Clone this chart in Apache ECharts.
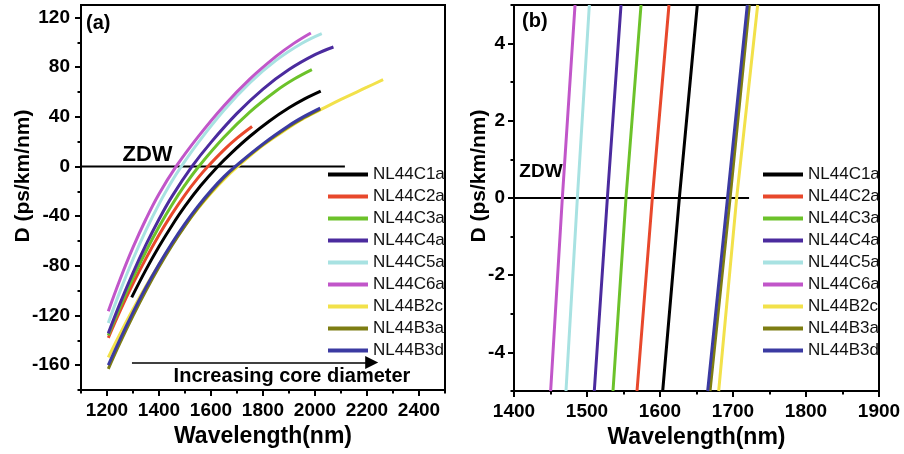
<!DOCTYPE html>
<html>
<head>
<meta charset="utf-8">
<script src="https://cdn.jsdelivr.net/npm/echarts@6/dist/echarts.min.js"></script>
<style>html,body{margin:0;padding:0;background:#fff}#c{width:904px;height:454px}</style>
</head>
<body>
<div id="c"></div>
<script>
// ---------- data ----------
const names = ['NL44C1a','NL44C2a','NL44C3a','NL44C4a','NL44C5a','NL44C6a','NL44B2c','NL44B3a','NL44B3d'];

// Panel (a): wavelength (nm) and dispersion D (ps/km/nm)
const wlC1a = [1295,1350,1400,1450,1500,1560,1626,1680,1750,1825,1900,1960,2022];
const dC1a  = [-105.4,-83.1,-64.5,-47.5,-32.0,-15.6,0,11.2,24.3,36.6,47.2,54.4,60.7];
const wlC2a = [1205,1250,1300,1350,1400,1450,1500,1550,1588,1650,1700,1758];
const dC2a  = [-138,-116.5,-94.4,-74.0,-55.2,-38.2,-22.8,-9.2,0,13.4,22.8,32.2];
const wlC3a = [1205,1250,1300,1350,1400,1450,1500,1553,1650,1750,1850,1920,1988];
const dC3a  = [-136,-113.3,-89.8,-68.3,-48.6,-30.8,-14.9,0,23.5,44.0,60.8,70.4,78.0];
const wlC4a = [1205,1250,1300,1350,1400,1450,1527,1600,1700,1800,1900,2000,2071];
const dC4a  = [-134.4,-110.3,-85.6,-63.0,-42.5,-24.1,0,19.4,42.7,62.3,78.0,90.0,96.2];
const wlC5a = [1205,1250,1300,1350,1400,1450,1486,1550,1650,1750,1850,1950,2026];
const dC5a  = [-126,-100.6,-74.7,-51.3,-30.3,-11.8,0,19.0,45.2,67.4,85.4,99.2,107];
const wlC6a = [1205,1250,1300,1350,1400,1466,1550,1650,1750,1850,1920,1984];
const dC6a  = [-116.6,-91.0,-65.2,-42.3,-22.2,0,23.8,48.9,70.5,88.6,99.3,107.5];
const wlB2c = [1205,1250,1300,1350,1400,1450,1500,1550,1600,1650,1703,1800,1900,1943,2020,2100,2200,2262];
const dB2c  = [-153.7,-134.9,-115.0,-96.3,-78.9,-62.7,-47.7,-34.0,-21.6,-10.4,0,17.0,31.3,37.1,45.5,54.0,63.8,69.9];
const wlB3a = [1205,1250,1300,1350,1400,1450,1500,1550,1600,1650,1696,1800,1900,1960,2020];
const dB3a  = [-163,-142.1,-120.3,-99.9,-81.0,-63.6,-47.8,-33.4,-20.6,-9.1,0,17.6,32.2,39.6,46.2];
const wlB3d = [1205,1250,1300,1350,1400,1450,1500,1550,1600,1650,1693,1800,1900,1960,2020];
const dB3d  = [-160,-139.2,-117.5,-97.3,-78.7,-61.6,-46.0,-31.9,-19.3,-8.2,0,18.2,33.0,40.5,47.0];

// Panel (b): wavelength where D = -5, 0, 5
const dLevelsB = [-5, 0, 5];
const wbC1a = [1603.7,1626.5,1651.1];
const wbC2a = [1568.5,1589.5,1612.3];
const wbC3a = [1535.6,1553.4,1574.0];
const wbC4a = [1510.0,1527.9,1546.6];
const wbC5a = [1471.2,1486.8,1503.2];
const wbC6a = [1450.2,1466.2,1483.6];
const wbB2c = [1680.4,1705.0,1733.8];
const wbB3a = [1668.5,1696.0,1722.4];
const wbB3d = [1665.3,1692.5,1719.6];

// ZDW reference lines and arrow
const zdwA = [[1100,0],[2115,0]];
const zdwB = [[1400,0],[1722,0]];
const arrowA = [[1296,-157.8],[2218,-157.8]];

// tick labels
const xTicksA = [1200,1400,1600,1800,2000,2200,2400];
const xMinorA = [1100,1300,1500,1700,1900,2100,2300,2500];
const yTicksA = [-160,-120,-80,-40,0,40,80,120];
const yMinorA = [-180,-140,-100,-60,-20,20,60,100];
const xTicksB = [1400,1500,1600,1700,1800,1900];
const xMinorB = [1450,1550,1650,1750,1850];
const yTicksB = [-4,-2,0,2,4];
const yMinorB = [-5,-3,-1,1,3,5];

// ---------- chart ----------
const colors = ['#000000','#e8482c','#6cc22a','#4b2b9e','#a8e2e2','#c156c9','#f2e14a','#7d7d12','#3b3aa2'];
const wlA = [wlC1a,wlC2a,wlC3a,wlC4a,wlC5a,wlC6a,wlB2c,wlB3a,wlB3d];
const dA  = [dC1a,dC2a,dC3a,dC4a,dC5a,dC6a,dB2c,dB3a,dB3d];
const wB  = [wbC1a,wbC2a,wbC3a,wbC4a,wbC5a,wbC6a,wbB2c,wbB3a,wbB3d];

const boldTick = {fontFamily:'Liberation Sans, Arial, sans-serif', fontWeight:'bold', fontSize:19, color:'#000',
  formatter:(v)=>String(v)};
const axisLineS = {show:true, onZero:false, lineStyle:{color:'#000', width:2}};

function mainX(grid, min, max, ticks, nameGap){
  return {gridIndex:grid, type:'value', min:min, max:max, position:'bottom',
    axisLine:axisLineS,
    axisTick:{show:true, customValues:ticks, length:6, lineStyle:{color:'#000', width:2}},
    axisLabel:Object.assign({customValues:ticks, margin:11}, boldTick),
    splitLine:{show:false},
    name:'Wavelength(nm)', nameLocation:'middle', nameGap:nameGap,
    nameTextStyle:{fontFamily:'Liberation Sans, Arial, sans-serif', fontWeight:'bold', fontSize:23, color:'#000'}};
}
function minorX(grid, min, max, ticks){
  return {gridIndex:grid, type:'value', min:min, max:max, position:'bottom',
    axisLine:{show:false, onZero:false}, axisLabel:{show:false}, splitLine:{show:false},
    axisTick:{show:true, customValues:ticks, length:3.5, lineStyle:{color:'#000', width:2}}};
}
function mainY(grid, min, max, ticks, margin){
  return {gridIndex:grid, type:'value', min:min, max:max, position:'left',
    axisLine:axisLineS,
    axisTick:{show:true, customValues:ticks, length:6, lineStyle:{color:'#000', width:2}},
    axisLabel:Object.assign({customValues:ticks, margin:margin}, boldTick),
    splitLine:{show:false}};
}
function minorY(grid, min, max, ticks){
  return {gridIndex:grid, type:'value', min:min, max:max, position:'left',
    axisLine:{show:false, onZero:false}, axisLabel:{show:false}, splitLine:{show:false},
    axisTick:{show:true, customValues:ticks, length:3.5, lineStyle:{color:'#000', width:2}}};
}

const series = [];
// ZDW line (a) with arrow
series.push({type:'line', name:'zdwA', xAxisIndex:0, yAxisIndex:0, data:zdwA, showSymbol:false, silent:true,
  lineStyle:{color:'#000', width:2}, z:1,
  markLine:{silent:true, symbol:['none','triangle'], symbolSize:13, label:{show:false},
    lineStyle:{color:'#000', width:1.5, type:'solid'},
    itemStyle:{color:'#000'},
    data:[[{coord:arrowA[0]},{coord:arrowA[1]}]]}});
series.push({type:'line', name:'zdwB', xAxisIndex:2, yAxisIndex:2, data:zdwB, showSymbol:false, silent:true,
  lineStyle:{color:'#000', width:2}, z:1});

names.forEach((n,i)=>{
  series.push({type:'line', name:n, xAxisIndex:0, yAxisIndex:0, smooth:0.4, showSymbol:false,
    color:colors[i], lineStyle:{width:3, color:colors[i]}, z:2,
    data: wlA[i].map((w,j)=>[w, dA[i][j]])});
});
names.forEach((n,i)=>{
  series.push({type:'line', name:n, xAxisIndex:2, yAxisIndex:2, smooth:false, showSymbol:false,
    color:colors[i], lineStyle:{width:3, color:colors[i]}, z:2,
    data: wB[i].map((w,j)=>[w, dLevelsB[j]])});
});

const legendBase = {orient:'vertical', top:161, itemWidth:40, itemHeight:4, itemGap:5, icon:'rect',
  data:names, selectedMode:false,
  textStyle:{fontFamily:'Liberation Sans, Arial, sans-serif', fontSize:17, color:'#111'}};

const boldText = (s)=>'bold '+s+'px "Liberation Sans", Arial, sans-serif';

const option = {
  animation:false,
  backgroundColor:'#fff',
  grid:[
    {left:81, top:5, width:364, height:385, show:true, borderColor:'#000', borderWidth:2},
    {left:514, top:5, width:365, height:386, show:true, borderColor:'#000', borderWidth:2}
  ],
  xAxis:[
    mainX(0,1100,2500,xTicksA,34), minorX(0,1100,2500,xMinorA),
    mainX(1,1400,1900,xTicksB,33), minorX(1,1400,1900,xMinorB)
  ],
  yAxis:[
    mainY(0,-180,130,yTicksA,11), minorY(0,-180,130,yMinorA),
    mainY(1,-5,5,yTicksB,9), minorY(1,-5,5,yMinorB)
  ],
  legend:[
    Object.assign({left:323}, legendBase),
    Object.assign({left:758}, legendBase)
  ],
  series:series,
  graphic:[
    {type:'text', x:86, y:23, style:{text:'(a)', font:boldText(20), fill:'#000', align:'left', verticalAlign:'middle'}},
    {type:'text', x:522, y:21, style:{text:'(b)', font:boldText(20), fill:'#000', align:'left', verticalAlign:'middle'}},
    {type:'text', x:147.5, y:155, style:{text:'ZDW', font:boldText(22), fill:'#000', align:'center', verticalAlign:'middle'}},
    {type:'text', x:541, y:171.5, style:{text:'ZDW', font:boldText(19), fill:'#000', align:'center', verticalAlign:'middle'}},
    {type:'text', x:292, y:376, style:{text:'Increasing core diameter', font:boldText(20), fill:'#000', align:'center', verticalAlign:'middle'}},
    {type:'text', x:23, y:176, rotation:Math.PI/2, style:{text:'D (ps/km/nm)', font:boldText(21), fill:'#000', align:'center', verticalAlign:'middle'}},
    {type:'text', x:479, y:176, rotation:Math.PI/2, style:{text:'D (ps/km/nm)', font:boldText(21), fill:'#000', align:'center', verticalAlign:'middle'}}
  ]
};

const chart = echarts.init(document.getElementById('c'), null, {renderer:'canvas'});
chart.setOption(option);
</script>
</body>
</html>
